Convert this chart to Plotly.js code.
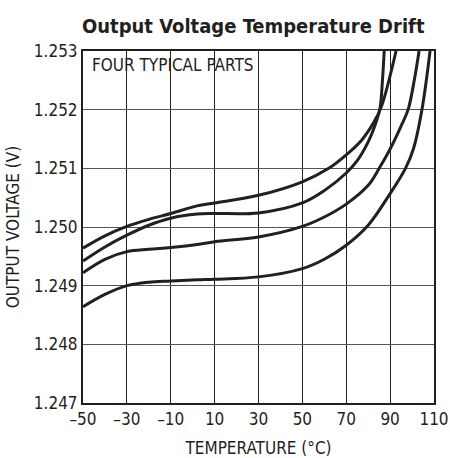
<!DOCTYPE html>
<html>
<head>
<meta charset="utf-8">
<script src="https://cdn.plot.ly/plotly-3.0.1.min.js"></script>
<style>html,body{margin:0;padding:0;background:#fff;}#chart{width:450px;height:458px;}</style>
</head>
<body>
<div id="chart"></div>
<script>
// Temperatures (°C) and output voltages (V) for the four typical parts
const tempA = [-50, -40, -30, -20, -10, 2, 10, 30, 50, 62, 70, 77, 82.5, 86, 92.7];
const voltA = [1.24964, 1.24985, 1.25001, 1.25013, 1.25023, 1.25036, 1.25041, 1.25054, 1.25077, 1.251, 1.25123, 1.25148, 1.25178, 1.25205, 1.253];

const tempB = [-50, -40, -30, -20, -10, 2, 10, 30, 50, 60, 70, 75, 80, 83, 85.4, 86.5, 87.3];
const voltB = [1.24942, 1.24966, 1.24986, 1.25003, 1.25015, 1.25022, 1.25023, 1.25024, 1.25041, 1.25062, 1.25092, 1.25113, 1.25145, 1.25172, 1.25203, 1.2525, 1.253];

const tempC = [-50, -40, -30, -20, -10, 2, 10, 30, 50, 60, 70, 80, 85, 90, 95, 98.2, 101, 103.2];
const voltC = [1.24922, 1.24945, 1.24958, 1.24962, 1.24965, 1.2497, 1.24975, 1.24983, 1.25001, 1.25017, 1.25039, 1.25071, 1.251, 1.25133, 1.25172, 1.252, 1.2525, 1.253];

const tempD = [-50, -40, -30, -20, -10, 2, 10, 30, 50, 60, 70, 80, 90, 97, 100.6, 104.5, 108.2];
const voltD = [1.24864, 1.24885, 1.24900, 1.24906, 1.24908, 1.2491, 1.24911, 1.24915, 1.24929, 1.24945, 1.24969, 1.25003, 1.25057, 1.251, 1.25133, 1.252, 1.253];

const xTickVals = [-50, -30, -10, 10, 30, 50, 70, 90, 110];
const xTickText = ['–50', '–30', '–10', '10', '30', '50', '70', '90', '110'];
const yTickVals = [1.247, 1.248, 1.249, 1.250, 1.251, 1.252, 1.253];
const yTickText = ['1.247', '1.248', '1.249', '1.250', '1.251', '1.252', '1.253'];

const FONT = '"Liberation Sans Narrow", "DejaVu Sans Condensed", "Liberation Sans", Arial, sans-serif';
const INK = '#231f20';

const series = [[tempA, voltA], [tempB, voltB], [tempC, voltC], [tempD, voltD]];
const traces = series.map(([t, v]) => ({
  x: t, y: v, type: 'scatter', mode: 'lines',
  line: {color: INK, width: 3, shape: 'spline', smoothing: 1},
  hoverinfo: 'skip', showlegend: false
}));

const layout = {
  width: 450, height: 458,
  margin: {l: 83, r: 16, t: 51, b: 55, pad: 0},
  paper_bgcolor: '#fff', plot_bgcolor: '#fff',
  font: {family: FONT, color: INK, size: 16},
  title: {
    text: '<b>Output Voltage Temperature Drift</b>',
    font: {family: FONT, size: 20, color: INK},
    x: 0.485, xref: 'paper', xanchor: 'center',
    y: 0.944, yref: 'container', yanchor: 'middle'
  },
  xaxis: {
    range: [-50, 110], tickmode: 'array', tickvals: xTickVals, ticktext: xTickText,
    showgrid: true, gridcolor: '#222', gridwidth: 1,
    showline: true, linecolor: INK, linewidth: 2, mirror: true,
    zeroline: false, ticks: '', tickfont: {size: 17, family: FONT, color: INK},
    title: {text: 'TEMPERATURE (°C)', font: {size: 17, family: FONT, color: INK}, standoff: 15},
    fixedrange: true
  },
  yaxis: {
    range: [1.247, 1.253], tickmode: 'array', tickvals: yTickVals, ticktext: yTickText,
    showgrid: true, gridcolor: '#555', gridwidth: 1,
    showline: true, linecolor: INK, linewidth: 2, mirror: true,
    zeroline: false, ticks: '', tickfont: {size: 17, family: FONT, color: INK},
    title: {text: 'OUTPUT VOLTAGE (V)', font: {size: 17, family: FONT, color: INK}, standoff: 10},
    fixedrange: true
  },
  shapes: [{
    type: 'rect', xref: 'paper', yref: 'paper', layer: 'between',
    x0: 0, x1: 0.505, y0: 0.913, y1: 1,
    fillcolor: '#fff', line: {width: 0}
  }],
  annotations: [{
    text: 'FOUR TYPICAL PARTS', xref: 'paper', yref: 'paper',
    x: 0.02, y: 0.995, xanchor: 'left', yanchor: 'top', showarrow: false,
    font: {size: 17, family: FONT, color: INK}
  }]
};

Plotly.newPlot('chart', traces, layout, {displayModeBar: false, staticPlot: true});
</script>
</body>
</html>
